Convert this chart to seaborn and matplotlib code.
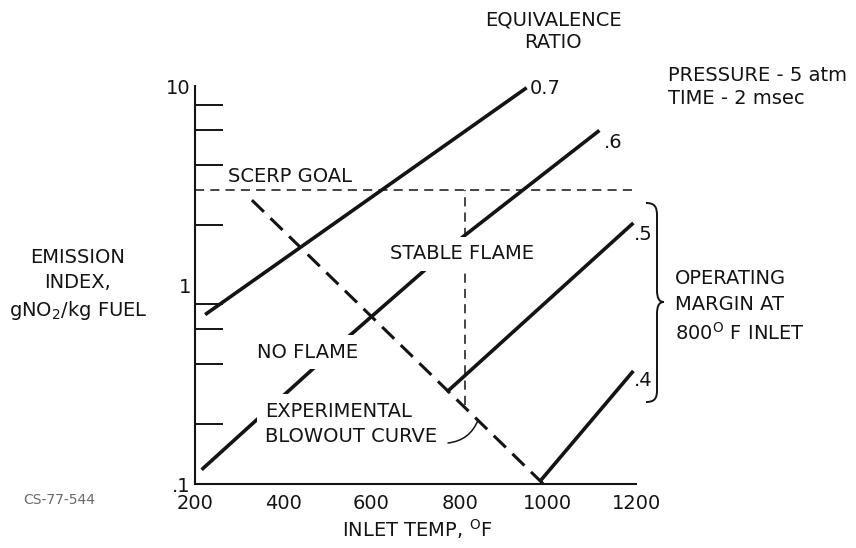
import numpy as np
import pandas as pd
import matplotlib
matplotlib.use("Agg")
import matplotlib.pyplot as plt
import seaborn as sns
from matplotlib.path import Path
from matplotlib.patches import PathPatch

# ---------------- data ----------------
phi_labels = ["0.7", ".6", ".5", ".4"]
temp_07 = [223, 952]
ei_07 = [0.71, 9.8]
temp_06 = [215, 548, 808, 1117]
ei_06 = [0.118, 0.55, 1.75, 5.98]
temp_05 = [771, 1194]
ei_05 = [0.29, 2.05]
temp_04 = [982, 1194]
ei_04 = [0.103, 0.37]
blowout_temp = [329, 990]
blowout_ei = [2.67, 0.1]
goal_temp = [200, 1200]
goal_ei = [3.0, 3.0]
margin_temp = [812, 812]
margin_ei = [0.25, 3.0]
x_ticks = [200, 400, 600, 800, 1000, 1200]
y_major = [0.1, 1, 10]
y_major_labels = [".1", "1", "10"]
y_minor = [0.2, 0.4, 0.6, 0.8, 2, 4, 6, 8]

# ---------------- style ----------------
sns.set_style("white")
plt.rcParams['font.family'] = ['DejaVu Sans']
plt.rcParams['mathtext.fontset'] = 'dejavusans'
INK = "#141414"
FS = 14

W, H = 856, 548
fig = plt.figure(figsize=(W / 100, H / 100), dpi=100)
fig.patch.set_facecolor("white")
ax = fig.add_axes([195 / W, 1 - 484 / H, (636 - 195) / W, (484 - 86) / H])
ax.set_facecolor("white")

rows = []
for lab, t, e in zip(phi_labels, [temp_07, temp_06, temp_05, temp_04],
                     [ei_07, ei_06, ei_05, ei_04]):
    for ti, ei in zip(t, e):
        rows.append({"phi": lab, "temp": ti, "ei": ei})
df = pd.DataFrame(rows)

sns.lineplot(data=df, x="temp", y="ei", hue="phi", palette=[INK] * 4,
             estimator=None, sort=False, legend=False, lw=2.6, ax=ax,
             solid_capstyle="butt", zorder=2)

bdf = pd.DataFrame({"temp": blowout_temp, "ei": blowout_ei})
sns.lineplot(data=bdf, x="temp", y="ei", color=INK, estimator=None, sort=False,
             lw=2.2, ax=ax, zorder=2, linestyle=(0, (5.5, 3.0)))

gdf = pd.DataFrame({"temp": goal_temp, "ei": goal_ei})
sns.lineplot(data=gdf, x="temp", y="ei", color=INK, estimator=None, sort=False,
             lw=1.1, ax=ax, zorder=2, linestyle=(0, (6, 4)))

mdf = pd.DataFrame({"temp": margin_temp, "ei": margin_ei})
sns.lineplot(data=mdf, x="temp", y="ei", color=INK, estimator=None, sort=False,
             lw=1.1, ax=ax, zorder=2, linestyle=(0, (6, 4)))

ax.set_yscale("log")
ax.set_xlim(200, 1200)
ax.set_ylim(0.1, 10)
ax.set_xlabel("")
ax.set_ylabel("")
ax.set_xticks(x_ticks)
ax.set_xticklabels([str(v) for v in x_ticks], fontsize=FS, color=INK)
ax.set_yticks(y_major)
ax.set_yticklabels(y_major_labels, fontsize=FS, color=INK)
ax.set_yticks(y_minor, minor=True)
ax.set_yticklabels([], minor=True)
ax.tick_params(axis="x", which="major", direction="in", length=19.5, width=1.4,
               color=INK, pad=7.5)
ax.tick_params(axis="y", which="major", direction="in", length=30, width=1.4,
               color=INK, pad=3)
ax.tick_params(axis="y", which="minor", direction="in", length=20, width=1.4,
               color=INK, left=True)
for s in ["top", "right"]:
    ax.spines[s].set_visible(False)
for s in ["left", "bottom"]:
    ax.spines[s].set_linewidth(1.5)
    ax.spines[s].set_color(INK)


def ftext(px, py, s, ha="left", va="center", **kw):
    kw.setdefault("fontsize", FS)
    kw.setdefault("color", INK)
    return fig.text(px / W, 1 - py / H, s, ha=ha, va=va, **kw)


box = dict(boxstyle="square,pad=0.4", fc="white", ec="none")

ftext(553, 31, "EQUIVALENCE\nRATIO", ha="center", linespacing=1.25)
ftext(530, 88, "0.7")
ftext(604, 142, ".6")
ftext(634, 234, ".5")
ftext(634, 381, ".4")
ftext(668, 87, "PRESSURE - 5 atm\nTIME - 2 msec", linespacing=1.3)
ftext(228, 177, "SCERP GOAL")
ftext(390, 254, "STABLE FLAME", bbox=box, zorder=5)
ftext(257, 352, "NO FLAME", bbox=box, zorder=5)
ftext(265, 424, "EXPERIMENTAL\nBLOWOUT CURVE", bbox=box, zorder=5,
      linespacing=1.45)
ftext(675, 279, "OPERATING")
ftext(675, 305, "MARGIN AT")
ftext(675, 333, r"800$^{\mathrm{O}}$ F INLET")
ftext(78, 285, "EMISSION\nINDEX,\n" + r"gNO$_2$/kg FUEL", ha="center",
      linespacing=1.4)
ftext(417, 529, r"INLET TEMP, $^{\mathrm{O}}$F", ha="center")
ftext(23, 500, "CS-77-544", fontsize=10, color="#6a6a6a")

# leader line from the label to the blowout curve
ax.annotate("", xy=(842, 0.21), xycoords="data",
            xytext=(448, H - 443), textcoords="figure pixels",
            arrowprops=dict(arrowstyle="-", color=INK, lw=1.1,
                            connectionstyle="arc3,rad=0.3",
                            shrinkA=0, shrinkB=0), zorder=6)

# right-hand brace
pts = [(646, 203), (655, 203), (657, 207), (657, 216),
       (657, 290),
       (657, 298), (659, 302), (664, 302),
       (659, 302), (657, 306), (657, 314),
       (657, 390),
       (657, 398), (655, 402), (646, 402)]
codes = [Path.MOVETO, Path.CURVE4, Path.CURVE4, Path.CURVE4,
         Path.LINETO,
         Path.CURVE4, Path.CURVE4, Path.CURVE4,
         Path.CURVE4, Path.CURVE4, Path.CURVE4,
         Path.LINETO,
         Path.CURVE4, Path.CURVE4, Path.CURVE4]
verts = [(x / W, 1 - y / H) for x, y in pts]
fig.add_artist(PathPatch(Path(verts, codes), transform=fig.transFigure,
                         fill=False, lw=1.4, ec=INK))

fig.savefig("out.png", dpi=100, facecolor="white")
